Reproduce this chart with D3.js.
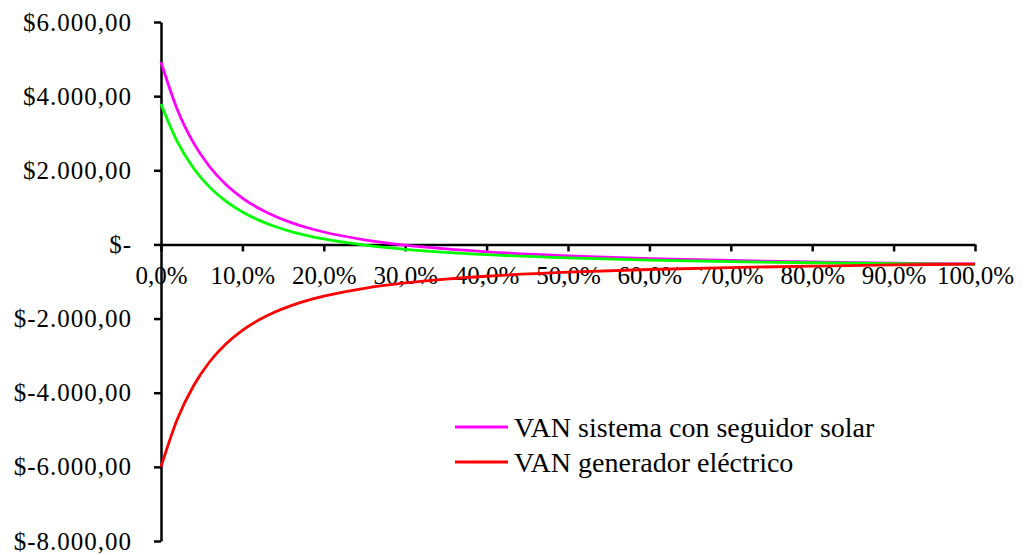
<!DOCTYPE html>
<html>
<head>
<meta charset="utf-8">
<script src="https://cdn.jsdelivr.net/npm/d3@7"></script>
<style>
  body { margin: 0; background: #fff; }
  svg { display: block; font-family: "Liberation Serif", "Times New Roman", serif; }
</style>
</head>
<body>
<div id="chart"></div>
<script>
// tasa de descuento (%)
var rates = [0, 2, 4, 6, 8, 10, 12, 14, 16, 18, 20, 25, 30, 35, 40, 50, 60, 70, 80, 90, 100];
// VAN sistema con seguidor solar
var vanSeguidor = [4923, 3641, 2739, 2089, 1612, 1252, 976, 761, 589, 450, 335, 124, -19, -122, -200, -309, -382, -434, -472, -503, -527];
// serie verde (sin leyenda)
var vanFijo = [3788, 2771, 2055, 1539, 1160, 875, 656, 485, 348, 238, 147, -20, -134, -216, -277, -364, -422, -463, -494, -518, -537];
// VAN generador eléctrico
var vanGenerador = [-6000, -4717, -3811, -3158, -2678, -2317, -2040, -1823, -1651, -1511, -1396, -1184, -1040, -936, -858, -749, -676, -624, -585, -554, -530];

var xTicks = [0, 10, 20, 30, 40, 50, 60, 70, 80, 90, 100];
var yTicks = [6000, 4000, 2000, 0, -2000, -4000, -6000, -8000];

var width = 1026, height = 555;

var svg = d3.select('#chart').append('svg')
  .attr('width', width)
  .attr('height', height);

var x = d3.scaleLinear().domain([0, 100]).range([161, 975]);
var y = d3.scaleLinear().domain([-8000, 6000]).range([541, 22]);

function fmtMoney(v) {
  if (v === 0) return '$-';
  var s = Math.abs(v).toFixed(0).replace(/\B(?=(\d{3})+(?!\d))/g, '.');
  return '$' + (v < 0 ? '-' : '') + s + ',00';
}

// eje Y
var yAxis = svg.append('g')
  .attr('transform', 'translate(' + x(0) + ',0)')
  .call(d3.axisLeft(y).tickValues(yTicks).tickSize(7).tickSizeOuter(0).tickPadding(22).tickFormat(fmtMoney));
yAxis.select('.domain').attr('stroke-width', 2.5);
yAxis.selectAll('.tick line').attr('stroke-width', 2.5);
yAxis.selectAll('text')
  .attr('font-size', 25)
  .attr('fill', '#000')
  .attr('letter-spacing', 1)
  .attr('font-family', '"Liberation Serif", serif');

// eje X
var xAxis = svg.append('g')
  .attr('transform', 'translate(0,' + y(0) + ')')
  .call(d3.axisBottom(x).tickValues(xTicks).tickSize(7).tickSizeOuter(0).tickPadding(15)
    .tickFormat(function(d) { return d.toFixed(1).replace('.', ',') + '%'; }));
xAxis.select('.domain').attr('stroke-width', 2.5);
xAxis.selectAll('.tick line').attr('stroke-width', 2.5);
xAxis.selectAll('text')
  .attr('font-size', 25)
  .attr('fill', '#000')
  .attr('font-family', '"Liberation Serif", serif');

var line = d3.line()
  .x(function(d) { return x(d[0]); })
  .y(function(d) { return y(d[1]); })
  .curve(d3.curveMonotoneX);

var series = [
  { name: 'VAN sistema con seguidor solar', color: '#ff00ff', values: vanSeguidor },
  { name: null, color: '#00ff00', values: vanFijo },
  { name: 'VAN generador eléctrico', color: '#ff0000', values: vanGenerador }
];

svg.append('g').selectAll('path')
  .data(series)
  .enter().append('path')
  .attr('fill', 'none')
  .attr('stroke', function(d) { return d.color; })
  .attr('stroke-width', 2.8)
  .attr('d', function(d) { return line(rates.map(function(r, i) { return [r, d.values[i]]; })); });

// leyenda
var legend = svg.append('g').attr('transform', 'translate(455,427)');
var items = legend.selectAll('g')
  .data(series.filter(function(d) { return d.name; }))
  .enter().append('g')
  .attr('transform', function(d, i) { return 'translate(0,' + i * 35 + ')'; });
items.append('line')
  .attr('x1', 0).attr('x2', 53)
  .attr('stroke', function(d) { return d.color; })
  .attr('stroke-width', 2.8);
items.append('text')
  .attr('x', 59)
  .attr('dy', '0.35em')
  .attr('font-size', 28)
  .text(function(d) { return d.name; });
</script>
</body>
</html>
